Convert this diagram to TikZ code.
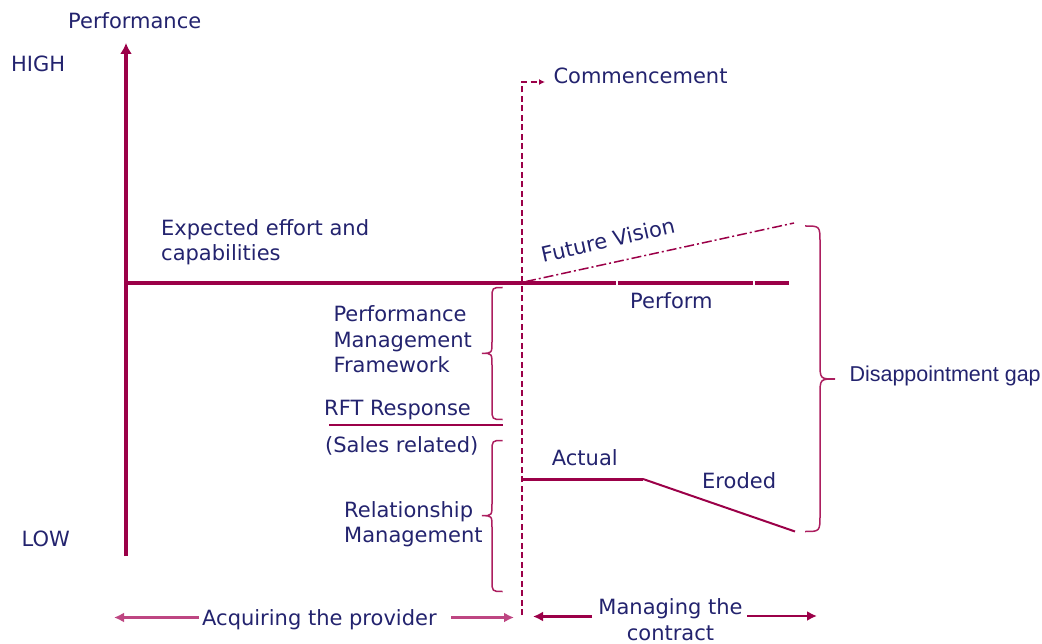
\documentclass[tikz,border=0pt]{standalone}
\usepackage{fontspec}
\setmainfont{DejaVu Sans}
\newfontfamily\arialf{Liberation Sans}
\usetikzlibrary{arrows.meta}
\definecolor{txt}{RGB}{35,35,110}
\definecolor{ln}{RGB}{155,0,72}
\definecolor{br}{RGB}{172,30,95}
\definecolor{pk}{RGB}{190,70,130}
\begin{document}
\begin{tikzpicture}[x=1pt,y=-1pt,
  every node/.style={inner sep=0pt, text=txt, font=\fontsize{21}{25.3}\selectfont},
  lbl/.style={anchor=base west, align=left},
  axisline/.style={draw=ln, line width=4.5pt},
  thinline/.style={draw=ln, line width=2pt},
  bracepath/.style={draw=br, line width=1.5pt},
  dashline/.style={draw=ln, line width=1.5pt, dash pattern=on 6pt off 3.5pt},
  dashdotline/.style={draw=ln, line width=1.5pt, dash pattern=on 10pt off 3pt on 2pt off 3pt},
  tip/.style={-{Latex[length=10pt,width=10pt]}},
]
\useasboundingbox (0,0) rectangle (1042,644);

% axis
\coordinate (ab) at (126,556);
\coordinate (at) at (126,43);
\draw[axisline, -{Latex[length=11pt,width=12pt]}] (ab) -- (at);

% horizontal expected line
\coordinate (h0) at (124,283);
\coordinate (h1) at (616.3,283);
\coordinate (h2) at (617.7,283);
\coordinate (h3) at (753.3,283);
\coordinate (h4) at (754.7,283);
\coordinate (h5) at (789,283);
\draw[axisline] (h0) -- (h1);
\draw[axisline] (h2) -- (h3);
\draw[axisline] (h4) -- (h5);

% commencement dashed
\coordinate (c0) at (522,615);
\coordinate (c1) at (522,82);
\coordinate (c2) at (545,82);
\draw[dashline, -{Latex[length=6pt,width=6pt]}] (c0) -- (c1) -- (c2);

% future vision
\coordinate (f0) at (526,281.5);
\coordinate (f1) at (794,223);
\draw[dashdotline] (f0) -- (f1);

% actual / eroded
\coordinate (a0) at (522,479);
\coordinate (a1) at (643,479);
\coordinate (e1) at (795,531.5);
\draw[draw=ln, line width=3pt] (a0) -- (a1);
\draw[thinline] (a1) -- (e1);

% RFT underline
\coordinate (u0) at (329,425);
\coordinate (u1) at (502.5,425);
\draw[draw=ln, line width=2.5pt] (u0) -- (u1);

% brace 1 (tip left)
\draw[bracepath] (502.5,287.5) .. controls (492,287.5) .. (492,299)
  -- (492,341) .. controls (492,353.3) .. (482,353.3)
  .. controls (492,353.3) .. (492,366) -- (492,408)
  .. controls (492,419.5) .. (502.5,419.5);
% brace 2 (tip left)
\draw[bracepath] (502.5,440.5) .. controls (492,440.5) .. (492,452)
  -- (492,503) .. controls (492,515.7) .. (482,515.7)
  .. controls (492,515.7) .. (492,528) -- (492,580)
  .. controls (492,591.5) .. (502.5,591.5);
% big brace (tip right)
\draw[bracepath] (805,226) .. controls (820,226) .. (820,243)
  -- (820,362) .. controls (820,379) .. (835,379)
  .. controls (820,379) .. (820,396) -- (820,514.5)
  .. controls (820,531.5) .. (805,531.5);

% bottom arrows
\coordinate (l0) at (199,617.5);
\coordinate (l1) at (114,617.5);
\coordinate (l2) at (451,617.5);
\coordinate (l3) at (514,617.5);
\coordinate (r0) at (592,616.5);
\coordinate (r1) at (533,616.5);
\coordinate (r2) at (747,616);
\coordinate (r3) at (817,616);
\draw[draw=pk, line width=2.5pt, tip] (l0) -- (l1);
\draw[draw=pk, line width=2.5pt, tip] (l2) -- (l3);
\draw[draw=ln, line width=2.5pt, tip] (r0) -- (r1);
\draw[draw=ln, line width=2.5pt, tip] (r2) -- (r3);

% texts
\node[lbl] (perf) at (68,28.3) {Performance};
\node[lbl] (high) at (11,71.7) {HIGH};
\node[lbl] (low) at (21.5,546.7) {LOW};
\node[lbl] (exp) at (161,261) {Expected effort and\\capabilities};
\node[lbl] (comm) at (553.3,83.3) {Commencement};
\node[lbl, rotate=12.8] (fv) at (543,262.7) {Future Vision};
\node[lbl] (perform) at (630,308.3) {Perform};
\node[lbl] (pmf) at (333.3,372.3) {Performance\\Management\\Framework};
\node[lbl] (rft) at (324,415) {RFT Response};
\node[lbl] (sales) at (325,452.7) {(Sales related)};
\node[lbl] (rel) at (344,542.7) {Relationship\\Management};
\node[lbl] (actual) at (551.7,465.7) {Actual};
\node[lbl] (eroded) at (702,488.3) {Eroded};
\node[lbl, font=\arialf\fontsize{21.5}{25}\selectfont] (gap) at (849.3,381.7) {Disappointment gap};
\node[lbl] (acq) at (202,625) {Acquiring the provider};
\node[anchor=base, align=center] (man) at (670.5,640) {Managing the\\contract};
\end{tikzpicture}
\end{document}
